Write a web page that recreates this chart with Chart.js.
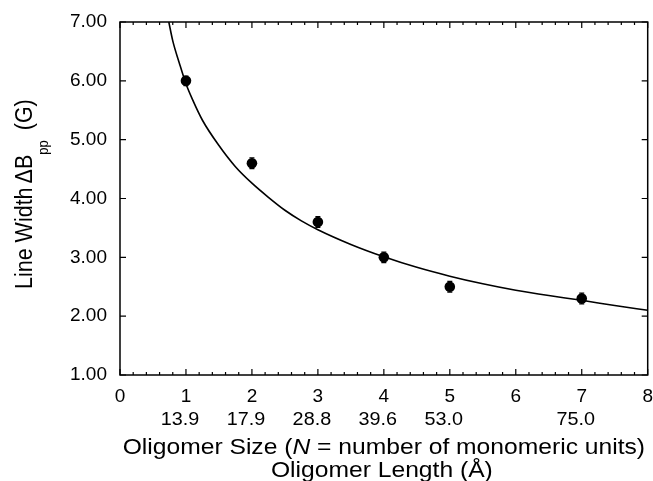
<!DOCTYPE html>
<html>
<head>
<meta charset="utf-8">
<script src="https://cdn.jsdelivr.net/npm/chart.js@4.4.0/dist/chart.umd.min.js"></script>
<style>
  body { margin: 0; background: #fff; }
  canvas { display: block; }
</style>
</head>
<body>
<canvas id="myChart" width="653" height="481"></canvas>
<script>
// Puntos medidos (tamaño del oligómero, ancho de línea, error)
const sizes = [1, 2, 3, 4, 5, 7];
const widths = [6.0, 4.6, 3.6, 3.0, 2.5, 2.3];
const errs = [0.08, 0.09, 0.09, 0.09, 0.09, 0.09];
const lengths = ['13.9', '17.9', '28.8', '39.6', '53.0', '75.0'];

// Curva de ajuste
const fitX = [0.74, 0.8, 0.9, 1.0, 1.1, 1.25, 1.5, 1.75, 2.0, 2.25, 2.5, 2.75, 3.0, 3.5, 4.0, 4.5, 5.0, 5.5, 6.0, 6.5, 7.0, 7.5, 8.0];
const fitY = [7.0, 6.68, 6.3, 5.95, 5.68, 5.33, 4.9, 4.54, 4.26, 4.02, 3.8, 3.62, 3.47, 3.22, 3.01, 2.83, 2.68, 2.55, 2.44, 2.35, 2.27, 2.18, 2.1];

// Marcas de los ejes
const xTicks = [0, 1, 2, 3, 4, 5, 6, 7, 8];
const yTicks = [1, 2, 3, 4, 5, 6, 7];

const FONT = '"Liberation Sans", Arial, Helvetica, sans-serif';

// Texto estirado en horizontal (el original está ensanchado)
const stretchText = (ctx, parts, cx, y, sx) => {
    let total = 0;
    parts.forEach(p => { ctx.font = p.font; total += ctx.measureText(p.text).width; });
    ctx.save();
    ctx.translate(cx - total * sx / 2, y);
    ctx.scale(sx, 1);
    let x = 0;
    parts.forEach(p => {
        ctx.font = p.font;
        ctx.fillText(p.text, x, 0);
        x += ctx.measureText(p.text).width;
    });
    ctx.restore();
};

const decoPlugin = {
    id: 'deco',
    beforeDatasetsDraw(chart) {
        // Barras de error
        const { ctx, scales: { x, y } } = chart;
        ctx.save();
        ctx.strokeStyle = '#000';
        ctx.lineWidth = 1.3;
        sizes.forEach((s, i) => {
            const px = x.getPixelForValue(s);
            const top = y.getPixelForValue(widths[i] + errs[i]);
            const bot = y.getPixelForValue(widths[i] - errs[i]);
            ctx.beginPath();
            ctx.moveTo(px, top); ctx.lineTo(px, bot);
            ctx.moveTo(px - 2.5, top); ctx.lineTo(px + 2.5, top);
            ctx.moveTo(px - 2.5, bot); ctx.lineTo(px + 2.5, bot);
            ctx.stroke();
        });
        ctx.restore();
    },
    afterDraw(chart) {
        const { ctx, chartArea: a, scales: { x, y } } = chart;
        ctx.save();
        ctx.strokeStyle = '#000';
        ctx.fillStyle = '#000';

        // Marco
        ctx.lineWidth = 1.5;
        ctx.strokeRect(a.left, a.top, a.right - a.left, a.bottom - a.top);

        // Marcas hacia adentro
        ctx.lineWidth = 1.2;
        ctx.beginPath();
        for (let v = 0; v <= 8.001; v += 0.2) {
            const px = x.getPixelForValue(v);
            const len = Math.abs(v - Math.round(v)) < 0.01 ? 6 : 3;
            ctx.moveTo(px, a.bottom); ctx.lineTo(px, a.bottom - len);
            ctx.moveTo(px, a.top); ctx.lineTo(px, a.top + len);
        }
        yTicks.forEach(v => {
            const py = y.getPixelForValue(v);
            ctx.moveTo(a.left, py); ctx.lineTo(a.left + 6, py);
            ctx.moveTo(a.right, py); ctx.lineTo(a.right - 6, py);
        });
        ctx.stroke();

        // Segunda fila: longitud del oligómero
        ctx.textBaseline = 'alphabetic';
        ctx.textAlign = 'left';
        sizes.forEach((s, i) => {
            stretchText(ctx, [{ text: lengths[i], font: `18px ${FONT}` }], x.getPixelForValue(s) - 6, 425, 1.1);
        });

        // Títulos del eje X
        const cx = (a.left + a.right) / 2;
        stretchText(ctx, [
            { text: 'Oligomer Size (', font: `22px ${FONT}` },
            { text: 'N', font: `italic 22px ${FONT}` },
            { text: ' = number of monomeric units)', font: `22px ${FONT}` }
        ], cx, 454, 1.12);
        stretchText(ctx, [{ text: 'Oligomer Length (Å)', font: `22px ${FONT}` }], cx - 2, 477, 1.12);

        // Título del eje Y con subíndice
        ctx.translate(32, 289);
        ctx.rotate(-Math.PI / 2);
        ctx.scale(1, 1.15);
        let pos = 0;
        ctx.font = `21.5px ${FONT}`;
        ctx.fillText('Line Width', pos, 0);
        pos += ctx.measureText('Line Width').width + 4;
        ctx.fillText('ΔB', pos, 0);
        pos += ctx.measureText('ΔB').width;
        ctx.font = `13px ${FONT}`;
        ctx.fillText('pp', pos, 14);
        pos += ctx.measureText('pp').width + 10;
        ctx.font = `21.5px ${FONT}`;
        ctx.fillText('(G)', pos, 0);
        ctx.restore();
    }
};

const ctx = document.getElementById('myChart').getContext('2d');
const myChart = new Chart(ctx, {
    type: 'scatter',
    data: {
        datasets: [
            {
                label: 'Ajuste',
                data: fitX.map((v, i) => ({ x: v, y: fitY[i] })),
                showLine: true,
                borderColor: '#000',
                borderWidth: 1.6,
                pointRadius: 0,
                cubicInterpolationMode: 'monotone',
                fill: false
            },
            {
                label: 'Medidos',
                data: sizes.map((s, i) => ({ x: s, y: widths[i] })),
                showLine: false,
                pointRadius: 5.3,
                backgroundColor: '#000',
                borderColor: '#000',
                borderWidth: 0
            }
        ]
    },
    options: {
        responsive: false,
        animation: false,
        layout: { padding: { top: 22, right: 5, left: 0, bottom: 0 } },
        plugins: { legend: { display: false }, tooltip: { enabled: false } },
        scales: {
            x: {
                type: 'linear',
                min: 0,
                max: 8,
                afterBuildTicks: s => { s.ticks = xTicks.map(v => ({ value: v })); },
                ticks: { color: '#000', font: { size: 19, family: FONT }, padding: 10, maxRotation: 0 },
                grid: { display: false, drawTicks: false },
                border: { display: false },
                afterFit: s => { s.height = 106; s.paddingLeft = 0; s.paddingRight = 0; }
            },
            y: {
                type: 'linear',
                min: 1,
                max: 7,
                afterBuildTicks: s => { s.ticks = yTicks.map(v => ({ value: v })); },
                ticks: { color: '#000', font: { size: 19, family: FONT }, padding: 13, callback: v => v.toFixed(2) },
                grid: { display: false, drawTicks: false },
                border: { display: false },
                afterFit: s => { s.width = 120; s.paddingTop = 0; s.paddingBottom = 0; }
            }
        }
    },
    plugins: [decoPlugin]
});
</script>
</body>
</html>
